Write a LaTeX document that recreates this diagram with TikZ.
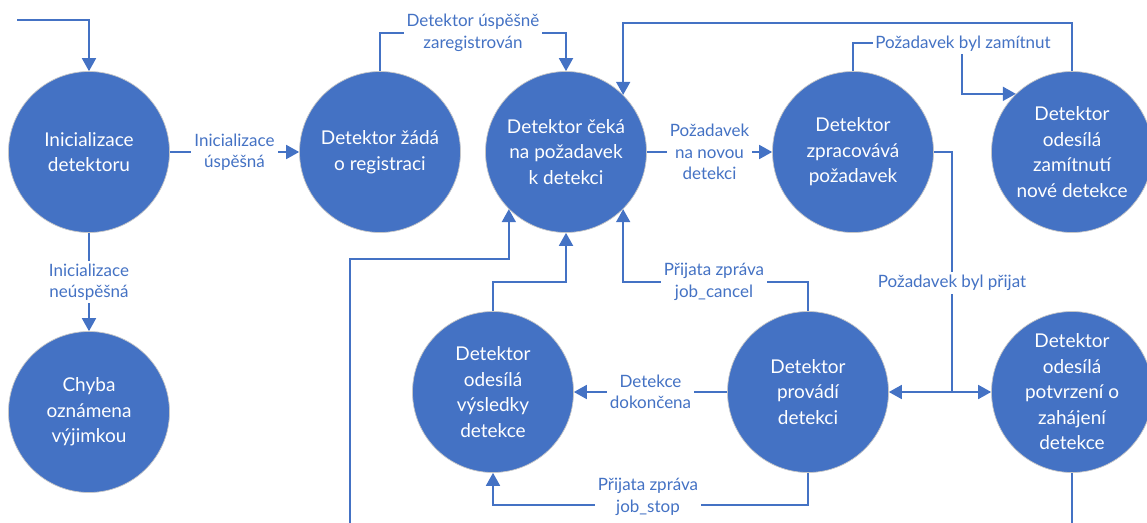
\documentclass[tikz,border=0pt]{standalone}
\usepackage{fontspec}
\setmainfont{Lato}
\usetikzlibrary{arrows.meta}
\definecolor{ablue}{HTML}{4472C4}

\begin{document}
\begin{tikzpicture}[x=1pt,y=-1pt,
  state/.style={circle, fill=ablue, draw=black!22, line width=0.7pt,
    minimum size=161pt, inner sep=0pt, text=white, align=center,
    font=\fontsize{19}{25.5}\selectfont},
  flow/.style={draw=ablue, line width=1.8pt,
    -{Triangle[length=13pt,width=14pt]}},
  lbl/.style={fill=white, text=ablue, align=center, inner sep=3pt,
    font=\fontsize{17}{21.5}\selectfont}]
\useasboundingbox (0,0) rectangle (1147,522);
\clip (0,0) rectangle (1147,522);

% states
\node[state] (init) at (89,152)   {Inicializace\\detektoru};
\node[state] (reg)  at (380,152)  {Detektor žádá\\o registraci};
\node[state] (wait) at (566,152)  {Detektor čeká\\na požadavek\\k detekci};
\node[state] (proc) at (853,152)  {Detektor\\zpracovává\\požadavek};
\node[state] (rej)  at (1072,152) {Detektor\\odesílá\\zamítnutí\\nové detekce};
\node[state] (err)  at (89,412)   {Chyba\\oznámena\\výjimkou};
\node[state] (res)  at (493,392)  {Detektor\\odesílá\\výsledky\\detekce};
\node[state] (run)  at (808,392)  {Detektor\\provádí\\detekci};
\node[state] (ack)  at (1072,392) {Detektor\\odesílá\\potvrzení o\\zahájení\\detekce};

% helper points
\coordinate (start) at (17,20);
\coordinate (rjA) at (962,43);
\coordinate (jn) at (952,392);
\coordinate (lowR) at (1072,545);
\coordinate (lowL) at (350,545);
\coordinate (upL) at (350,259);

% transitions
\draw[flow] (start) -| (init.north);
\draw[flow] (init) -- node[lbl] (l1) {Inicializace\\úspěšná} (reg);
\draw[flow] (init) -- node[lbl] (l2) {Inicializace\\neúspěšná} (err);
\draw[flow] (reg.north) -- ++(0,-38.5) -| (wait.north);
\node[lbl] (l3) at (473,33) {Detektor úspěšně\\zaregistrován};
\draw[flow] (wait) -- node[lbl] (l4) {Požadavek\\na novou\\detekci} (proc);
\draw[flow] (proc.north) |- (rjA) |- (rej.134);
\node[lbl, inner sep=2pt] (l5) at (963,44) {Požadavek byl zamítnut};
\draw[flow] (rej.north) -- ++(0,-48) -| (wait.45);
\draw[flow] (proc.east) -| (jn) -- (run.east);
\draw[flow] (jn) -- (ack.west);
\node[lbl] (l6) at (952,283) {Požadavek byl přijat};
\draw[flow] (run) -- node[lbl] (l7) {Detekce\\dokončena} (res);
\draw[flow] (run.north) -- ++(0,-29.5) -| (wait.-45);
\node[lbl] (l8) at (714,282) {Přijata zpráva\\job\_cancel};
\draw[flow] (run.south) -- ++(0,32) -| (res.south);
\node[lbl] (l9) at (648,497) {Přijata zpráva\\job\_stop};
\draw[flow] (res.north) -- ++(0,-29.5) -| (wait.south);
\draw[flow] (ack.south) -- (lowR) -- (lowL) -- (upL) -| (wait.-135);
\end{tikzpicture}
\end{document}
